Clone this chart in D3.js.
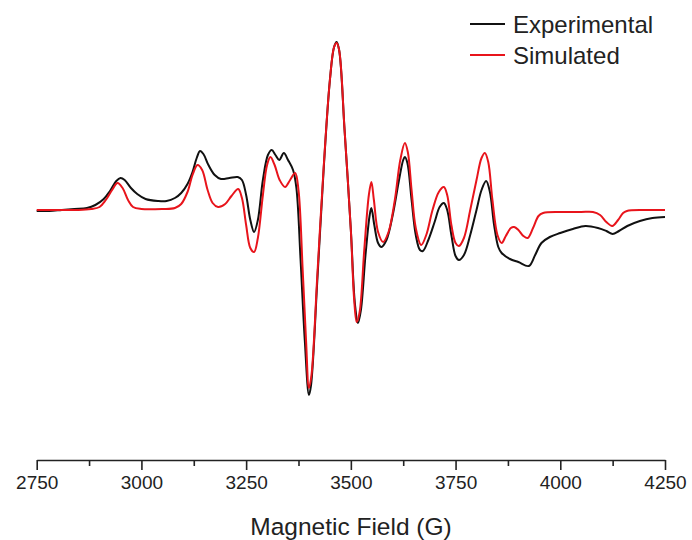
<!DOCTYPE html>
<html>
<head>
<meta charset="utf-8">
<script src="https://cdn.jsdelivr.net/npm/d3@7"></script>
<style>
  body { margin: 0; background: #fff; }
  svg { font-family: "Liberation Sans", Arial, sans-serif; }
</style>
</head>
<body>
<div id="chart"></div>
<script>
// camp magnètic (G) i senyal (u.a.) de l'espectre experimental
let expField = [2750, 2780, 2810, 2840, 2870, 2890, 2910, 2925, 2940, 2950, 2960, 2975, 2990, 3010, 3040, 3060,
  3080, 3095, 3110, 3122, 3132, 3140, 3148, 3160, 3175, 3190, 3210, 3230, 3240, 3250, 3260, 3269, 3278, 3290,
  3302, 3311, 3320, 3329, 3340, 3350, 3362, 3370, 3380, 3390, 3400, 3405, 3420, 3435, 3450, 3460, 3466, 3472,
  3485, 3500, 3510, 3517, 3524, 3535, 3545, 3549, 3556, 3565, 3573, 3585, 3600, 3615, 3625, 3629, 3635, 3645,
  3655, 3665, 3672, 3685, 3700, 3712, 3722, 3730, 3740, 3750, 3758, 3770, 3785, 3800, 3812, 3823, 3832, 3842,
  3852, 3860, 3880, 3900, 3925, 3940, 3955, 3975, 4000, 4030, 4060, 4090, 4110, 4125, 4140, 4160, 4190, 4220, 4250]
let expSignal = [-1, -1, 0, 1, 2, 5, 11, 19, 29, 32, 30, 22, 16, 11, 9, 9,
  12, 17, 26, 38, 52, 59, 56, 45, 35, 31, 32, 33, 30, 15, -10, -22, -10, 30,
  55, 60, 55, 50, 57, 50, 40, 22, -50, -130, -185, -175, -70, 40, 130, 163, 168, 160,
  80, -20, -95, -113, -100, -45, -5, 2, -15, -33, -37, -30, -5, 30, 50, 53, 47, 10,
  -25, -40, -41, -30, -12, 3, 7, 0, -25, -46, -50, -45, -25, 0, 20, 29, 18, -15,
  -37, -43, -49, -52, -56, -45, -33, -27, -23, -19, -16, -18, -21, -24, -21, -16, -11, -8, -7]

// espectre simulat
let simField = [2750, 2800, 2850, 2880, 2900, 2915, 2930, 2943, 2955, 2968, 2980, 3000, 3050, 3080, 3095, 3110,
  3122, 3134, 3145, 3158, 3170, 3183, 3200, 3215, 3231, 3240, 3250, 3260, 3269, 3278, 3290, 3300, 3308, 3318,
  3330, 3343, 3355, 3367, 3375, 3385, 3393, 3400, 3406, 3420, 3435, 3450, 3460, 3466, 3472, 3485, 3500, 3508,
  3514, 3521, 3532, 3543, 3549, 3555, 3565, 3577, 3590, 3605, 3618, 3629, 3636, 3645, 3655, 3668, 3680, 3695,
  3710, 3722, 3730, 3740, 3750, 3758, 3770, 3785, 3800, 3812, 3820, 3828, 3838, 3850, 3860, 3870, 3882, 3890,
  3900, 3912, 3922, 3935, 3948, 3959, 4000, 4050, 4078, 4095, 4110, 4124, 4138, 4150, 4159, 4200, 4250]
let simSignal = [0, 0, 0, 1, 3, 10, 20, 27, 22, 10, 3, 1, 1, 2, 6, 18,
  35, 45, 40, 20, 7, 3, 6, 14, 21, 12, -15, -38, -42, -28, 15, 45, 53, 45,
  30, 23, 30, 37, 20, -60, -130, -178, -165, -65, 42, 130, 163, 167, 160, 80, -20, -90,
  -112, -102, -40, 15, 28, 10, -22, -32, -22, 10, 50, 67, 58, 20, -18, -35, -25, 0,
  18, 23, 15, -15, -33, -36, -28, 0, 30, 52, 57, 48, 10, -25, -33, -26, -18, -17,
  -20, -26, -28, -18, -6, -3, -2, -2, -2, -5, -12, -16, -10, -3, -1, 0, 0]

let majorTicks = [2750, 3000, 3250, 3500, 3750, 4000, 4250]
let minorTicks = [2875, 3125, 3375, 3625, 3875, 4125]
let series = ['Experimental', 'Simulated']
let colors = ['#111111', '#e8141b']

let ample = 692
let alt = 540
let eixY = 460

let svg = d3.select('#chart')
  .append('svg')
  .attr('width', ample)
  .attr('height', alt)

let x = d3.scaleLinear().domain([2750, 4250]).range([36.7, 665])
let y = d3.scaleLinear().domain([-250, 210]).range([460, 0])

let linia = d3.line()
  .x(d => x(d[0]))
  .y(d => y(d[1]))
  .curve(d3.curveCatmullRom.alpha(0.5))

let dades = [
  d3.zip(expField, expSignal),
  d3.zip(simField, simSignal)
]

svg.selectAll('path.serie')
  .data(dades)
  .enter()
  .append('path')
  .attr('class', 'serie')
  .attr('d', d => linia(d))
  .attr('fill', 'none')
  .attr('stroke', (_, i) => colors[i])
  .attr('stroke-width', 2)
  .attr('stroke-linejoin', 'round')

// eix x
let eix = svg.append('g')
  .attr('transform', `translate(0,${eixY})`)
  .call(d3.axisBottom(x).tickValues(majorTicks).tickSize(10).tickSizeOuter(0).tickFormat(d3.format('d')))
eix.select('.domain').attr('stroke', '#222').attr('stroke-width', 1.6)
eix.selectAll('.tick line').attr('stroke', '#222').attr('stroke-width', 1.6)
eix.selectAll('.tick text')
  .attr('font-size', 19)
  .attr('fill', '#222')
  .attr('font-family', '"Liberation Sans", Arial, sans-serif')
  .attr('y', 16)

let menor = svg.append('g')
  .attr('transform', `translate(0,${eixY})`)
  .call(d3.axisBottom(x).tickValues(minorTicks).tickSize(6).tickSizeOuter(0).tickFormat(''))
menor.select('.domain').remove()
menor.selectAll('.tick line').attr('stroke', '#222').attr('stroke-width', 1.6)

svg.append('text')
  .attr('x', 351)
  .attr('y', 535)
  .attr('text-anchor', 'middle')
  .attr('font-size', 24.5)
  .attr('fill', '#222')
  .text('Magnetic Field (G)')

// llegenda
let llegenda = svg.selectAll('g.llegenda')
  .data(series)
  .enter()
  .append('g')
  .attr('class', 'llegenda')
  .attr('transform', (_, i) => `translate(470,${24 + i * 31})`)

llegenda.append('line')
  .attr('x1', 0)
  .attr('x2', 35)
  .attr('stroke', (_, i) => colors[i])
  .attr('stroke-width', 2)

llegenda.append('text')
  .attr('x', 43)
  .attr('y', 9)
  .attr('font-size', 24)
  .attr('fill', '#222')
  .text(d => d)
</script>
</body>
</html>
